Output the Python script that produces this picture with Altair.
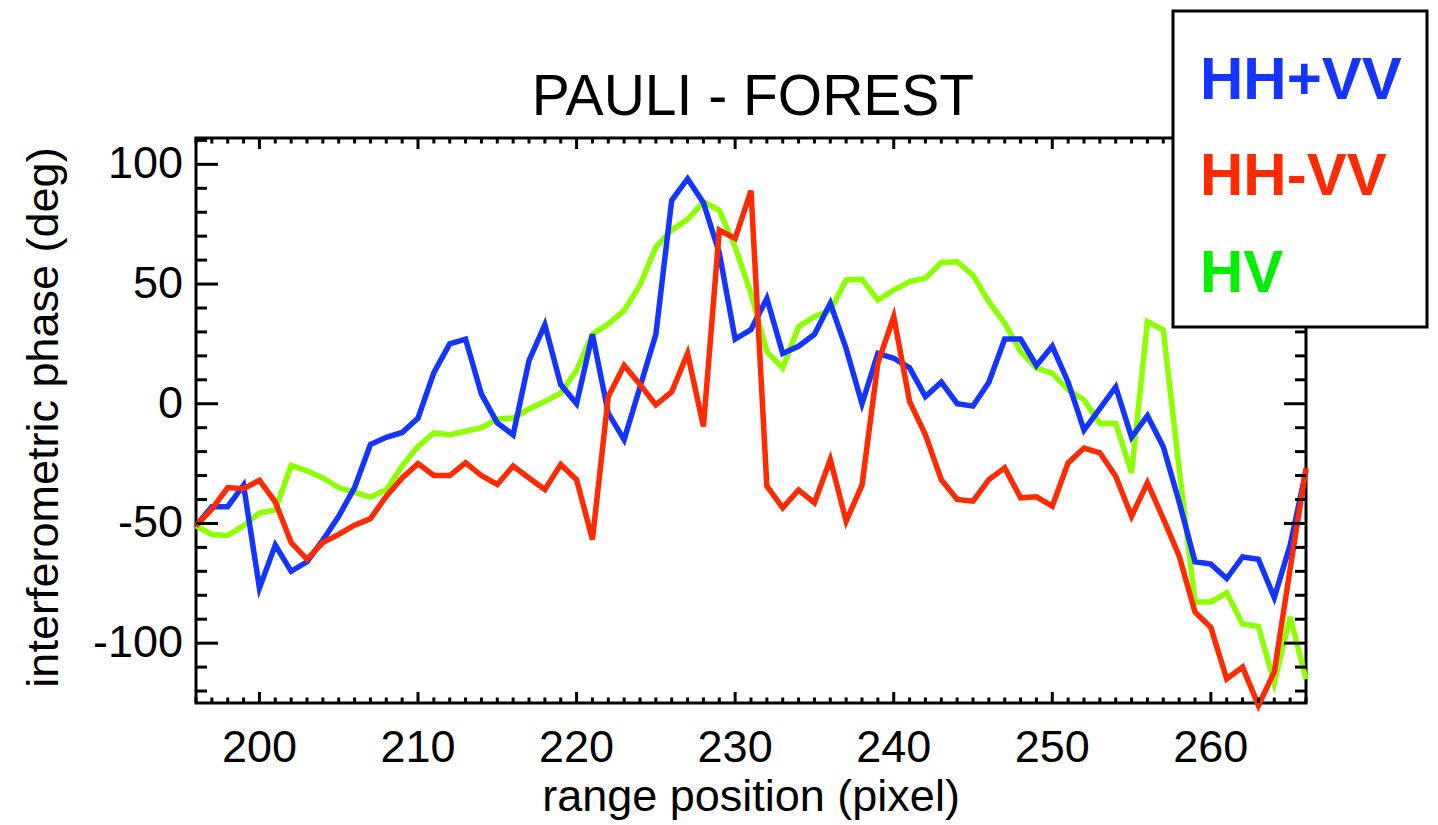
import altair as alt
import pandas as pd

FONT = "Liberation Sans"

# ---------------- data ----------------
x_pos = list(range(196, 267))

hh_plus_vv = [-51, -43, -43, -34, -77, -59, -70, -66, -57, -47,
              -35, -17, -14, -12, -6, 13, 25, 27, 4, -8,
              -13, 18, 33, 8, 0, 29, -4, -15, 7, 29,
              85, 94, 84, 63, 27, 31, 44, 21, 24, 29,
              42, 23, 0, 21, 19, 15, 3, 9, 0, -1,
              9, 27, 27, 16, 24, 9, -11, -2, 7, -14,
              -5, -18, -41, -66, -67, -73, -64, -65, -81, -59,
              -28]

hh_minus_vv = [-51, -44, -35, -35.5, -32, -41, -58, -65, -58, -54.6,
               -50.7, -48, -38.6, -31, -25, -30, -30, -24.7, -30, -33.7,
               -26, -31, -35.8, -25.4, -31.7, -56.7, 3, 16, 8, -0.5,
               5, 21, -9.5, 72.5, 69, 89, -34.4, -43.5, -36, -41.4,
               -23.3, -49, -34, 17, 36.4, 1, -13, -31.7, -40, -40.7,
               -31.7, -26.8, -39.3, -38.9, -42.8, -24.7, -18.5, -20.5, -30.3, -47,
               -33, -48, -63.6, -87, -93.5, -115, -110, -126, -112, -69,
               -27]

hv = [-51, -54.6, -55, -51, -45.6, -44.4, -25.8, -28, -31, -35,
      -37, -39, -36, -26, -17.8, -12.2, -12.9, -11.5, -10, -6.4,
      -6, -2.2, 1, 4.4, 14, 29, 33.3, 39, 49.6, 65.5,
      72.5, 77, 84.3, 80.8, 65.5, 46, 21.8, 14.9, 32.2, 36.4,
      39, 51.7, 52, 43.3, 47.5, 51, 52.4, 59, 59.3, 53.7,
      42.6, 33.6, 21.8, 14.9, 12.8, 5.8, 1.7, -8.3, -8.3, -28.9,
      34.3, 30.8, -27, -82.8, -82.8, -79, -92, -93, -116.7, -89,
      -115]

series_names = ["HH+VV", "HH-VV", "HV"]
series_values = [hh_plus_vv, hh_minus_vv, hv]
line_colors = ["#1434FF", "#FF2A00", "#8CFF00"]
legend_colors = ["#1434FF", "#FF2A00", "#00F000"]

x_major = [200, 210, 220, 230, 240, 250, 260]
x_minor = [v for v in range(196, 267) if v % 10 != 0]
y_major = [-100, -50, 0, 50, 100]
y_minor = [v for v in range(-120, 111, 10) if v % 50 != 0]

title_text = "PAULI - FOREST"
x_title = "range position (pixel)"
y_title = "interferometric phase (deg)"

# ---------------- layout ----------------
W, H = 1110, 565
xs = alt.Scale(domain=[196, 266], nice=False, zero=False)
ys = alt.Scale(domain=[-125, 111], nice=False, zero=False)

layers = []
# draw order: green, blue, red on top
for idx in [2, 0, 1]:
    df = pd.DataFrame({"x": x_pos, "v": series_values[idx]})
    layers.append(
        alt.Chart(df).mark_line(color=line_colors[idx], strokeWidth=5.5, clip=False,
                                strokeJoin="miter")
        .encode(x=alt.X("x:Q", scale=xs, axis=None),
                y=alt.Y("v:Q", scale=ys, axis=None))
    )


def hticks(values, x0, x1):
    return alt.Chart(pd.DataFrame({"t": values})).mark_rule(color="black", strokeWidth=3).encode(
        y=alt.Y("t:Q", scale=ys, axis=None), x=alt.value(x0), x2=alt.value(x1))


def vticks(values, y0, y1):
    return alt.Chart(pd.DataFrame({"t": values})).mark_rule(color="black", strokeWidth=3).encode(
        x=alt.X("t:Q", scale=xs, axis=None), y=alt.value(y0), y2=alt.value(y1))


layers += [
    hticks(y_major, 0, 22), hticks(y_minor, 0, 11),
    hticks(y_major, W, W - 22), hticks(y_minor, W, W - 11),
    vticks(x_major, H, H - 11), vticks(x_minor, H, H - 5.5),
    vticks(x_major, 0, 11), vticks(x_minor, 0, 5.5),
]

# tick labels (through the scales)
xl = pd.DataFrame({"t": x_major, "lab": [str(v) for v in x_major]})
layers.append(
    alt.Chart(xl).mark_text(font=FONT, fontSize=45, color="black", align="center",
                            baseline="alphabetic")
    .encode(x=alt.X("t:Q", scale=xs, axis=None), y=alt.value(H + 59), text="lab:N")
)
yl = pd.DataFrame({"t": y_major, "lab": [str(v) for v in y_major]})
layers.append(
    alt.Chart(yl).mark_text(font=FONT, fontSize=45, color="black", align="right",
                            baseline="middle")
    .encode(y=alt.Y("t:Q", scale=ys, axis=None), x=alt.value(-13), text="lab:N")
)

# axis titles
layers.append(
    alt.Chart(pd.DataFrame({"t": [x_title]})).mark_text(
        font=FONT, fontSize=45, color="black", align="center", baseline="alphabetic")
    .encode(text="t:N", x=alt.value(W / 2), y=alt.value(H + 108))
)
layers.append(
    alt.Chart(pd.DataFrame({"t": [y_title]})).mark_text(
        font=FONT, fontSize=45, color="black", align="center", baseline="alphabetic",
        angle=270)
    .encode(text="t:N", x=alt.value(-138), y=alt.value(H / 2 - 3))
)

# legend box
layers.append(
    alt.Chart(pd.DataFrame({"k": [0]})).mark_rect(fill="white", stroke="black", strokeWidth=3)
    .encode(x=alt.value(977), x2=alt.value(1231), y=alt.value(-127), y2=alt.value(189))
)
legend_baselines = [-39, 57, 154]
for name, col, yb in zip(series_names, legend_colors, legend_baselines):
    layers.append(
        alt.Chart(pd.DataFrame({"name": [name]})).mark_text(
            font=FONT, fontSize=60, fontWeight="bold", color=col, align="left",
            baseline="alphabetic")
        .encode(text="name:N", x=alt.value(1004), y=alt.value(yb))
    )

# title
layers.append(
    alt.Chart(pd.DataFrame({"t": [title_text]})).mark_text(
        font=FONT, fontSize=57, color="black", align="center", baseline="alphabetic")
    .encode(text="t:N", x=alt.value(W / 2 + 2), y=alt.value(-23))
)

chart = alt.layer(*layers).properties(
    width=W, height=H,
    autosize=alt.AutoSizeParams(type="none"),
    padding={"left": 196, "top": 138, "right": 132, "bottom": 122},
    background="white",
).configure(font=FONT).configure_view(stroke="black", strokeWidth=3)

chart.save("out.html", embed_options={"renderer": "svg", "actions": False})
